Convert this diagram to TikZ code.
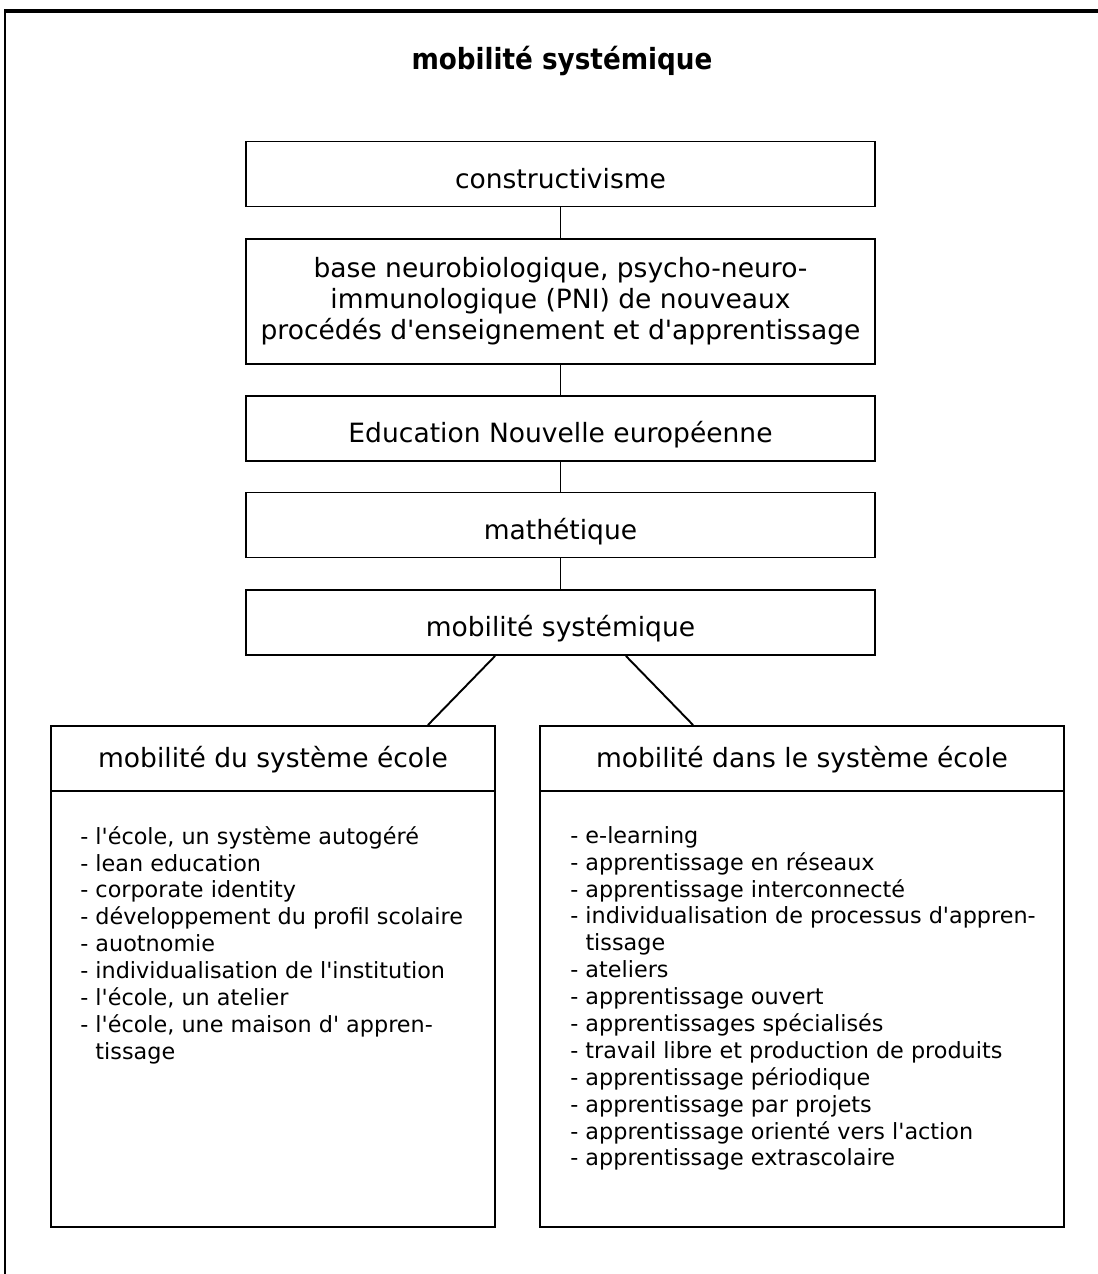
\documentclass[tikz,border=0pt]{standalone}
\usepackage{fontspec}
\setmainfont{DejaVu Sans}
\newfontfamily\condfont{DejaVuSansCondensed}[Extension=.ttf,BoldFont=DejaVuSansCondensed-Bold]
\usetikzlibrary{calc}
\newcommand{\ap}{\textquotesingle}

\begin{document}
\begin{tikzpicture}[x=0.02cm, y=-0.02cm,
	stage/.style={rectangle, draw=black, line width=1.1pt, minimum width=12.58cm, minimum height=1.3cm, inner sep=0pt, align=center, font=\fontsize{15.1}{17.6}\selectfont},
	onestage/.style={stage, text height=16pt, text depth=0pt},
	headbox/.style={rectangle, draw=black, line width=1.1pt, minimum height=1.3cm, inner sep=0pt, text height=10.6pt, text depth=0pt, font=\fontsize{15.1}{17.6}\selectfont},
	bodybox/.style={rectangle, draw=black, line width=1.1pt, minimum height=8.72cm, inner sep=0pt},
	listtext/.style={anchor=north west, align=left, inner sep=0pt, font=\fontsize{12.7}{15.3}\selectfont},
	link/.style={line width=1.1pt}]
		
		\useasboundingbox (0,0) rectangle (1098,1274);
		% Frame
		\draw[line width=2.3pt] (4,11) -- (1098,11);
		\draw[line width=1.1pt] (5,11) -- (5,1274);
		\node[font=\condfont\bfseries\fontsize{16.6}{19}\selectfont] (title) at (562,61) {mobilité systémique};
		
		% Stages
		\node[onestage] (cons) at (560.5,174) {constructivisme};
		\node[stage, minimum height=2.5cm] (base) at (560.5,301.5) {base neurobiologique, psycho-neuro-\\immunologique (PNI) de nouveaux\\procédés d\ap enseignement et d\ap apprentissage};
		\node[onestage] (educ) at (560.5,428.5) {Education Nouvelle européenne};
		\node[onestage] (math) at (560.5,525) {mathétique};
		\node[onestage] (mob) at (560.5,622.5) {mobilité systémique};
		
		% Two columns
		\node[headbox, minimum width=8.88cm] (lefthead) at (273,758.5) {mobilité du système école};
		\node[bodybox, minimum width=8.88cm] (leftbody) at (273,1009) {};
		\node[headbox, minimum width=10.48cm] (righthead) at (802,758.5) {mobilité dans le système école};
		\node[bodybox, minimum width=10.48cm] (rightbody) at (802,1009) {};
		\node[listtext] (leftlist) at (80,826) {- l\ap école, un système autogéré\\- lean education\\- corporate identity\\- développement du profil scolaire\\- auotnomie\\- individualisation de l\ap institution\\- l\ap école, un atelier\\- l\ap école, une maison d\ap{} appren-\\\phantom{- }tissage};
		\node[listtext] (rightlist) at (570,826) {- e-learning\\- apprentissage en réseaux\\- apprentissage interconnecté\\- individualisation de processus d\ap appren-\\\phantom{- }tissage\\- ateliers\\- apprentissage ouvert\\- apprentissages spécialisés\\- travail libre et production de produits\\- apprentissage périodique\\- apprentissage par projets\\- apprentissage orienté vers l\ap action\\- apprentissage extrascolaire};
		
		% Connect
		\draw[link] (cons) -- (base);
		\draw[link] (base) -- (educ);
		\draw[link] (educ) -- (math);
		\draw[link] (math) -- (mob);
		\draw[link] ($(mob.south west)+(250,0)$) -- ($(lefthead.north east)+(-68,0)$);
		\draw[link] ($(mob.south east)+(-250,0)$) -- ($(righthead.north west)+(154,0)$);
		
	\end{tikzpicture}
\end{document}
